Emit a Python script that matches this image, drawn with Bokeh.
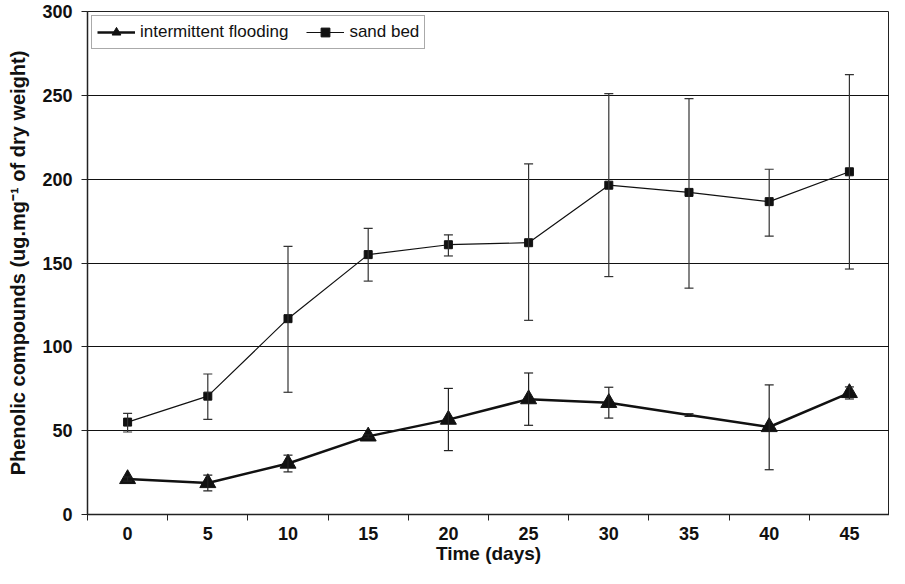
from bokeh.plotting import figure
from bokeh.models import (FixedTicker, Range1d, Whisker, ColumnDataSource, Legend,
                          LegendItem, TeeHead)
from bokeh.embed import file_html
from bokeh.resources import INLINE

days = [0, 5, 10, 15, 20, 25, 30, 35, 40, 45]
tick_labels = ["0", "5", "10", "15", "20", "25", "30", "35", "40", "45"]

sand_mean = [55.1, 70.6, 116.8, 155.0, 160.9, 162.1, 196.4, 192.1, 186.6, 204.4]
sand_upper = [60.3, 83.8, 159.9, 170.6, 166.8, 209.1, 251.0, 248.0, 205.9, 262.3]
sand_lower = [49.2, 56.7, 72.9, 139.2, 154.2, 115.8, 141.9, 135.0, 166.0, 146.4]

flood_mean = [21.2, 18.8, 30.4, 46.6, 56.6, 68.8, 66.6, 59.3, 52.2, 72.5]
flood_upper = [22.5, 23.5, 35.4, 47.5, 75.2, 84.4, 75.9, 60.1, 77.3, 76.1]
flood_lower = [19.9, 14.1, 25.4, 45.7, 38.1, 53.2, 57.5, 58.5, 26.7, 68.9]
flood_has_marker = [True, True, True, True, True, True, True, False, True, True]

FONT = "Liberation Sans"

p = figure(width=889, height=568, output_backend="svg", toolbar_location=None,
           x_range=Range1d(-2.5, 47.5), y_range=Range1d(0, 300),
           min_border_left=87, min_border_right=0, min_border_top=11,
           min_border_bottom=54)

p.background_fill_color = "white"
p.border_fill_color = "white"
p.outline_line_color = "#222222"
p.outline_line_width = 1

# grid
p.xgrid.grid_line_color = None
p.ygrid.ticker = FixedTicker(ticks=[50, 100, 150, 200, 250])
p.ygrid.grid_line_color = "#111111"
p.ygrid.grid_line_width = 1

# x axis
xa = p.xaxis[0]
xa.ticker = FixedTicker(ticks=days, minor_ticks=[d - 2.5 for d in days] + [47.5])
xa.major_label_overrides = {d: l for d, l in zip(days, tick_labels)}
xa.major_tick_out = 0
xa.major_tick_in = 0
xa.minor_tick_in = 0
xa.minor_tick_out = 6
xa.minor_tick_line_color = "#222222"
xa.axis_line_color = "#222222"
xa.axis_line_width = 1.5
xa.major_label_text_font = FONT
xa.major_label_text_font_style = "bold"
xa.major_label_text_font_size = "18px"
xa.major_label_text_color = "#111111"
xa.major_label_standoff = 6
xa.axis_label = "Time (days)"
xa.axis_label_text_font = FONT
xa.axis_label_text_font_style = "bold"
xa.axis_label_text_font_size = "19px"
xa.axis_label_text_color = "#111111"
xa.axis_label_standoff = 0

# y axis
ya = p.yaxis[0]
ya.ticker = FixedTicker(ticks=[0, 50, 100, 150, 200, 250, 300])
ya.major_tick_out = 6
ya.major_tick_in = 0
ya.minor_tick_out = 0
ya.minor_tick_in = 0
ya.major_tick_line_color = "#222222"
ya.axis_line_color = "#222222"
ya.axis_line_width = 1.5
ya.major_label_text_font = FONT
ya.major_label_text_font_style = "bold"
ya.major_label_text_font_size = "18px"
ya.major_label_text_color = "#111111"
ya.major_label_standoff = 9
ya.axis_label = "Phenolic compounds (ug.mg\u207B\u00B9 of dry weight)"
ya.axis_label_text_font = FONT
ya.axis_label_text_font_style = "bold"
ya.axis_label_text_font_size = "20px"
ya.axis_label_text_color = "#111111"
ya.axis_label_standoff = 10

sand_src = ColumnDataSource(dict(x=days, y=sand_mean, up=sand_upper, lo=sand_lower))
flood_src = ColumnDataSource(dict(x=days, y=flood_mean, up=flood_upper, lo=flood_lower))
flood_mk = ColumnDataSource(dict(
    x=[d for d, m in zip(days, flood_has_marker) if m],
    y=[v for v, m in zip(flood_mean, flood_has_marker) if m]))

for src, col in ((sand_src, "#333333"), (flood_src, "#222222")):
    w = Whisker(source=src, base="x", upper="up", lower="lo", dimension="height",
                line_color=col, line_width=1.2, level="glyph",
                upper_head=TeeHead(size=9, line_color=col, line_width=1.2),
                lower_head=TeeHead(size=9, line_color=col, line_width=1.2))
    p.add_layout(w)

sand_line = p.line("x", "y", source=sand_src, line_color="#111111", line_width=1.2)
sand_pts = p.scatter("x", "y", source=sand_src, marker="square", size=8,
                     fill_color="#111111", line_color="#111111")
flood_line = p.line("x", "y", source=flood_src, line_color="#111111", line_width=2.5)
flood_pts = p.scatter("x", "y", source=flood_mk, marker="triangle", size=16,
                      fill_color="#111111", line_color="#111111")

legend = Legend(items=[
    LegendItem(label="intermittent flooding", renderers=[flood_line, flood_pts]),
    LegendItem(label="sand bed", renderers=[sand_line, sand_pts]),
], orientation="horizontal", location="top_left")
legend.label_text_font = FONT
legend.label_text_font_size = "17px"
legend.label_text_color = "#111111"
legend.border_line_color = "#555555"
legend.border_line_width = 1.5
legend.margin = 4
legend.padding = 5
legend.spacing = 18
legend.glyph_width = 38
legend.glyph_height = 22
legend.label_standoff = 5
legend.label_height = 20
legend.background_fill_alpha = 1
p.add_layout(legend)

open("out.html", "w").write(file_html(p, INLINE))
